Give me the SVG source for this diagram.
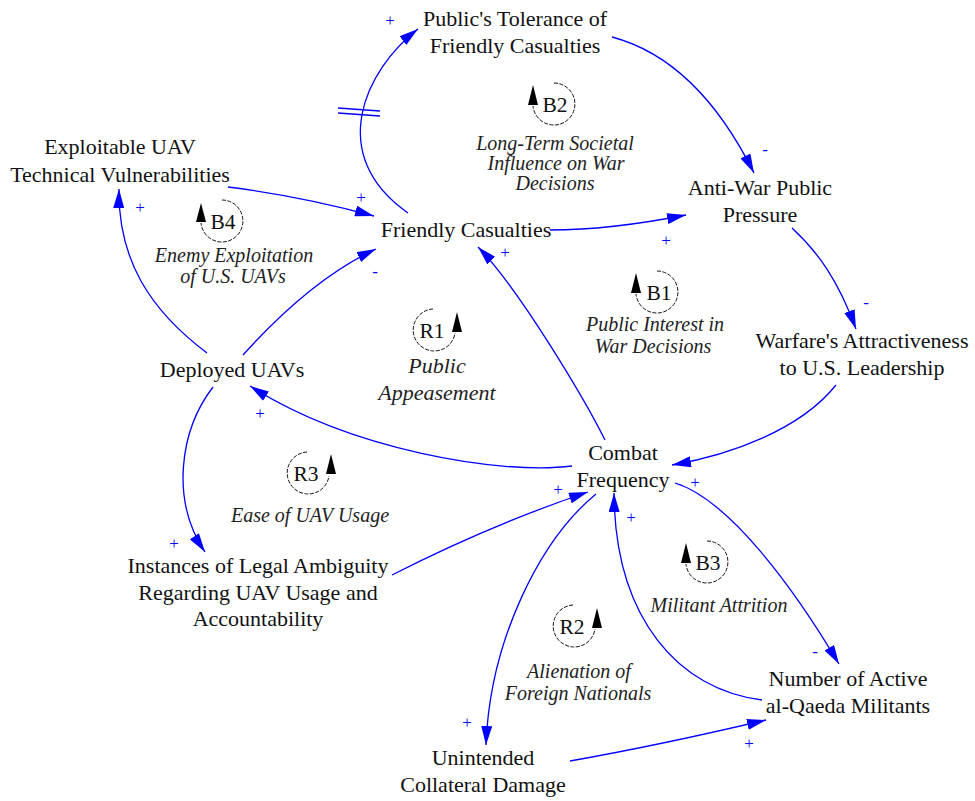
<svg xmlns="http://www.w3.org/2000/svg" width="975" height="801" viewBox="0 0 975 801">
  <style>
    .node { font-family: 'Liberation Serif', 'Tinos', 'Times New Roman', 'DejaVu Serif', serif; font-size: 22px; fill: #111; text-anchor: middle; }
    .loopname { font-family: 'Liberation Serif', 'Tinos', 'Times New Roman', 'DejaVu Serif', serif; font-size: 21.5px; fill: #111; text-anchor: middle; }
    .looplabel { font-family: 'Liberation Serif', 'Tinos', 'Times New Roman', 'DejaVu Serif', serif; font-size: 20px; font-style: italic; fill: #222; text-anchor: middle; }
    .link { fill: none; stroke: #0000ff; stroke-width: 1.3; marker-end: url(#ah); }
    .delay { stroke: #0000ff; stroke-width: 1.3; }
    .pol { font-family: 'Liberation Serif', 'Tinos', 'Times New Roman', 'DejaVu Serif', serif; font-size: 17px; fill: #0000ff; text-anchor: middle; }
    .arc { fill: none; stroke: #111; stroke-width: 1; stroke-dasharray: 4 1.5; }
    .tip { fill: #000; }
  </style>
  <defs>
    <marker id="ah" markerWidth="19" markerHeight="11" refX="19" refY="5.5" orient="auto" markerUnits="userSpaceOnUse">
      <path d="M0,0 L19,5.5 L0,11 z" fill="#0000ff"/>
    </marker>
  </defs>
  <rect width="975" height="801" fill="#fff"/>

  <!-- causal links -->
  <g id="connectors">
    <path class="link" d="M408,213 C325,155 365,70 418,29"/>
    <line class="delay" x1="338" y1="108" x2="380" y2="111"/>
    <line class="delay" x1="338" y1="113" x2="380" y2="116"/>
    <path class="link" d="M612,37 C680,55 725,115 754,173"/>
    <path class="link" d="M228,187 Q300,196 374,216"/>
    <path class="link" d="M243,355 C270,325 320,275 376,249"/>
    <path class="link" d="M207,353 C150,310 118,260 119,189"/>
    <path class="link" d="M550,230 Q610,230 686,215"/>
    <path class="link" d="M792,228 C818,252 838,280 856,329"/>
    <path class="link" d="M836,385 C800,430 730,455 672,465"/>
    <path class="link" d="M605,440 C585,400 520,290 478,247"/>
    <path class="link" d="M572,466 C500,475 350,450 250,386"/>
    <path class="link" d="M213,387 C180,430 170,500 205,552"/>
    <path class="link" d="M392,575 Q490,525 588,492"/>
    <path class="link" d="M596,494 C540,540 490,640 486,745"/>
    <path class="link" d="M762,700 C680,690 615,620 614,493"/>
    <path class="link" d="M675,483 C730,500 795,590 839,664"/>
    <path class="link" d="M570,761 Q660,745 766,720"/>
    <!-- polarities -->
    <text class="pol" x="390" y="26">+</text>
    <text class="pol" x="765" y="155">-</text>
    <text class="pol" x="361" y="203">+</text>
    <text class="pol" x="375" y="277">-</text>
    <text class="pol" x="140" y="213">+</text>
    <text class="pol" x="666" y="246">+</text>
    <text class="pol" x="866" y="308">-</text>
    <text class="pol" x="695" y="488">+</text>
    <text class="pol" x="505" y="258">+</text>
    <text class="pol" x="260" y="419">+</text>
    <text class="pol" x="174" y="549">+</text>
    <text class="pol" x="558" y="495">+</text>
    <text class="pol" x="467" y="728">+</text>
    <text class="pol" x="631" y="523">+</text>
    <text class="pol" x="815" y="657">-</text>
    <text class="pol" x="749" y="749">+</text>
  </g>

  <!-- variables -->
  <g id="public-tolerance"><text class="node" x="515" y="26">Public's Tolerance of</text><text class="node" x="515" y="53">Friendly Casualties</text></g>
  <g id="exploitable-vulnerabilities"><text class="node" x="120" y="154">Exploitable UAV</text><text class="node" x="120" y="182">Technical Vulnerabilities</text></g>
  <g id="friendly-casualties"><text class="node" x="466" y="237">Friendly Casualties</text></g>
  <g id="anti-war-pressure"><text class="node" x="760" y="195">Anti-War Public</text><text class="node" x="760" y="222">Pressure</text></g>
  <g id="warfare-attractiveness"><text class="node" x="862" y="348">Warfare's Attractiveness</text><text class="node" x="862" y="375">to U.S. Leadership</text></g>
  <g id="deployed-uavs"><text class="node" x="232" y="377">Deployed UAVs</text></g>
  <g id="combat-frequency"><text class="node" x="623" y="460">Combat</text><text class="node" x="623" y="487">Frequency</text></g>
  <g id="legal-ambiguity"><text class="node" x="258" y="573">Instances of Legal Ambiguity</text><text class="node" x="258" y="600">Regarding UAV Usage and</text><text class="node" x="258" y="626">Accountability</text></g>
  <g id="collateral-damage"><text class="node" x="483" y="765">Unintended</text><text class="node" x="483" y="792">Collateral Damage</text></g>
  <g id="active-militants"><text class="node" x="848" y="686">Number of Active</text><text class="node" x="848" y="713">al-Qaeda Militants</text></g>

  <!-- loop identifiers -->
  <g id="loop-b2">
    <path class="arc" d="M554,83 A21,21 0 1 1 533,106"/>
    <polygon class="tip" points="533,85 538,105 528,105"/>
    <text class="loopname" x="555" y="112">B2</text>
    <text class="looplabel" x="555" y="150">Long-Term Societal</text>
    <text class="looplabel" x="556" y="170">Influence on War</text>
    <text class="looplabel" x="555" y="190">Decisions</text>
  </g>
  <g id="loop-b4">
    <path class="arc" d="M222,200 A21,21 0 1 1 201,223"/>
    <polygon class="tip" points="201,203 206,222 196,222"/>
    <text class="loopname" x="223" y="229">B4</text>
    <text class="looplabel" x="234" y="262">Enemy Exploitation</text>
    <text class="looplabel" x="233" y="283">of U.S. UAVs</text>
  </g>
  <g id="loop-b1">
    <path class="arc" d="M657,271 A21,21 0 1 1 636,294"/>
    <polygon class="tip" points="636,273 641,293 631,293"/>
    <text class="loopname" x="659" y="300">B1</text>
    <text class="looplabel" x="655" y="331">Public Interest in</text>
    <text class="looplabel" x="653" y="353">War Decisions</text>
  </g>
  <g id="loop-r1">
    <path class="arc" d="M433,309 A21,21 0 1 0 455,333"/>
    <polygon class="tip" points="457,312 462,332 452,332"/>
    <text class="loopname" x="432" y="338">R1</text>
    <text class="looplabel" x="437" y="373" style="font-size:22px">Public</text>
    <text class="looplabel" x="437" y="400" style="font-size:22px">Appeasement</text>
  </g>
  <g id="loop-r3">
    <path class="arc" d="M307,452 A21,21 0 1 0 329,476"/>
    <polygon class="tip" points="331,454 336,474 326,474"/>
    <text class="loopname" x="306" y="481">R3</text>
    <text class="looplabel" x="310" y="522">Ease of UAV Usage</text>
  </g>
  <g id="loop-r2">
    <path class="arc" d="M573,605 A21,21 0 1 0 595,629"/>
    <polygon class="tip" points="597,608 602,628 592,628"/>
    <text class="loopname" x="572" y="634">R2</text>
    <text class="looplabel" x="579" y="678">Alienation of</text>
    <text class="looplabel" x="578" y="700">Foreign Nationals</text>
  </g>
  <g id="loop-b3">
    <path class="arc" d="M707,541 A21,21 0 1 1 686,564"/>
    <polygon class="tip" points="686,543 691,563 681,563"/>
    <text class="loopname" x="708" y="570">B3</text>
    <text class="looplabel" x="719" y="612">Militant Attrition</text>
  </g>
</svg>
